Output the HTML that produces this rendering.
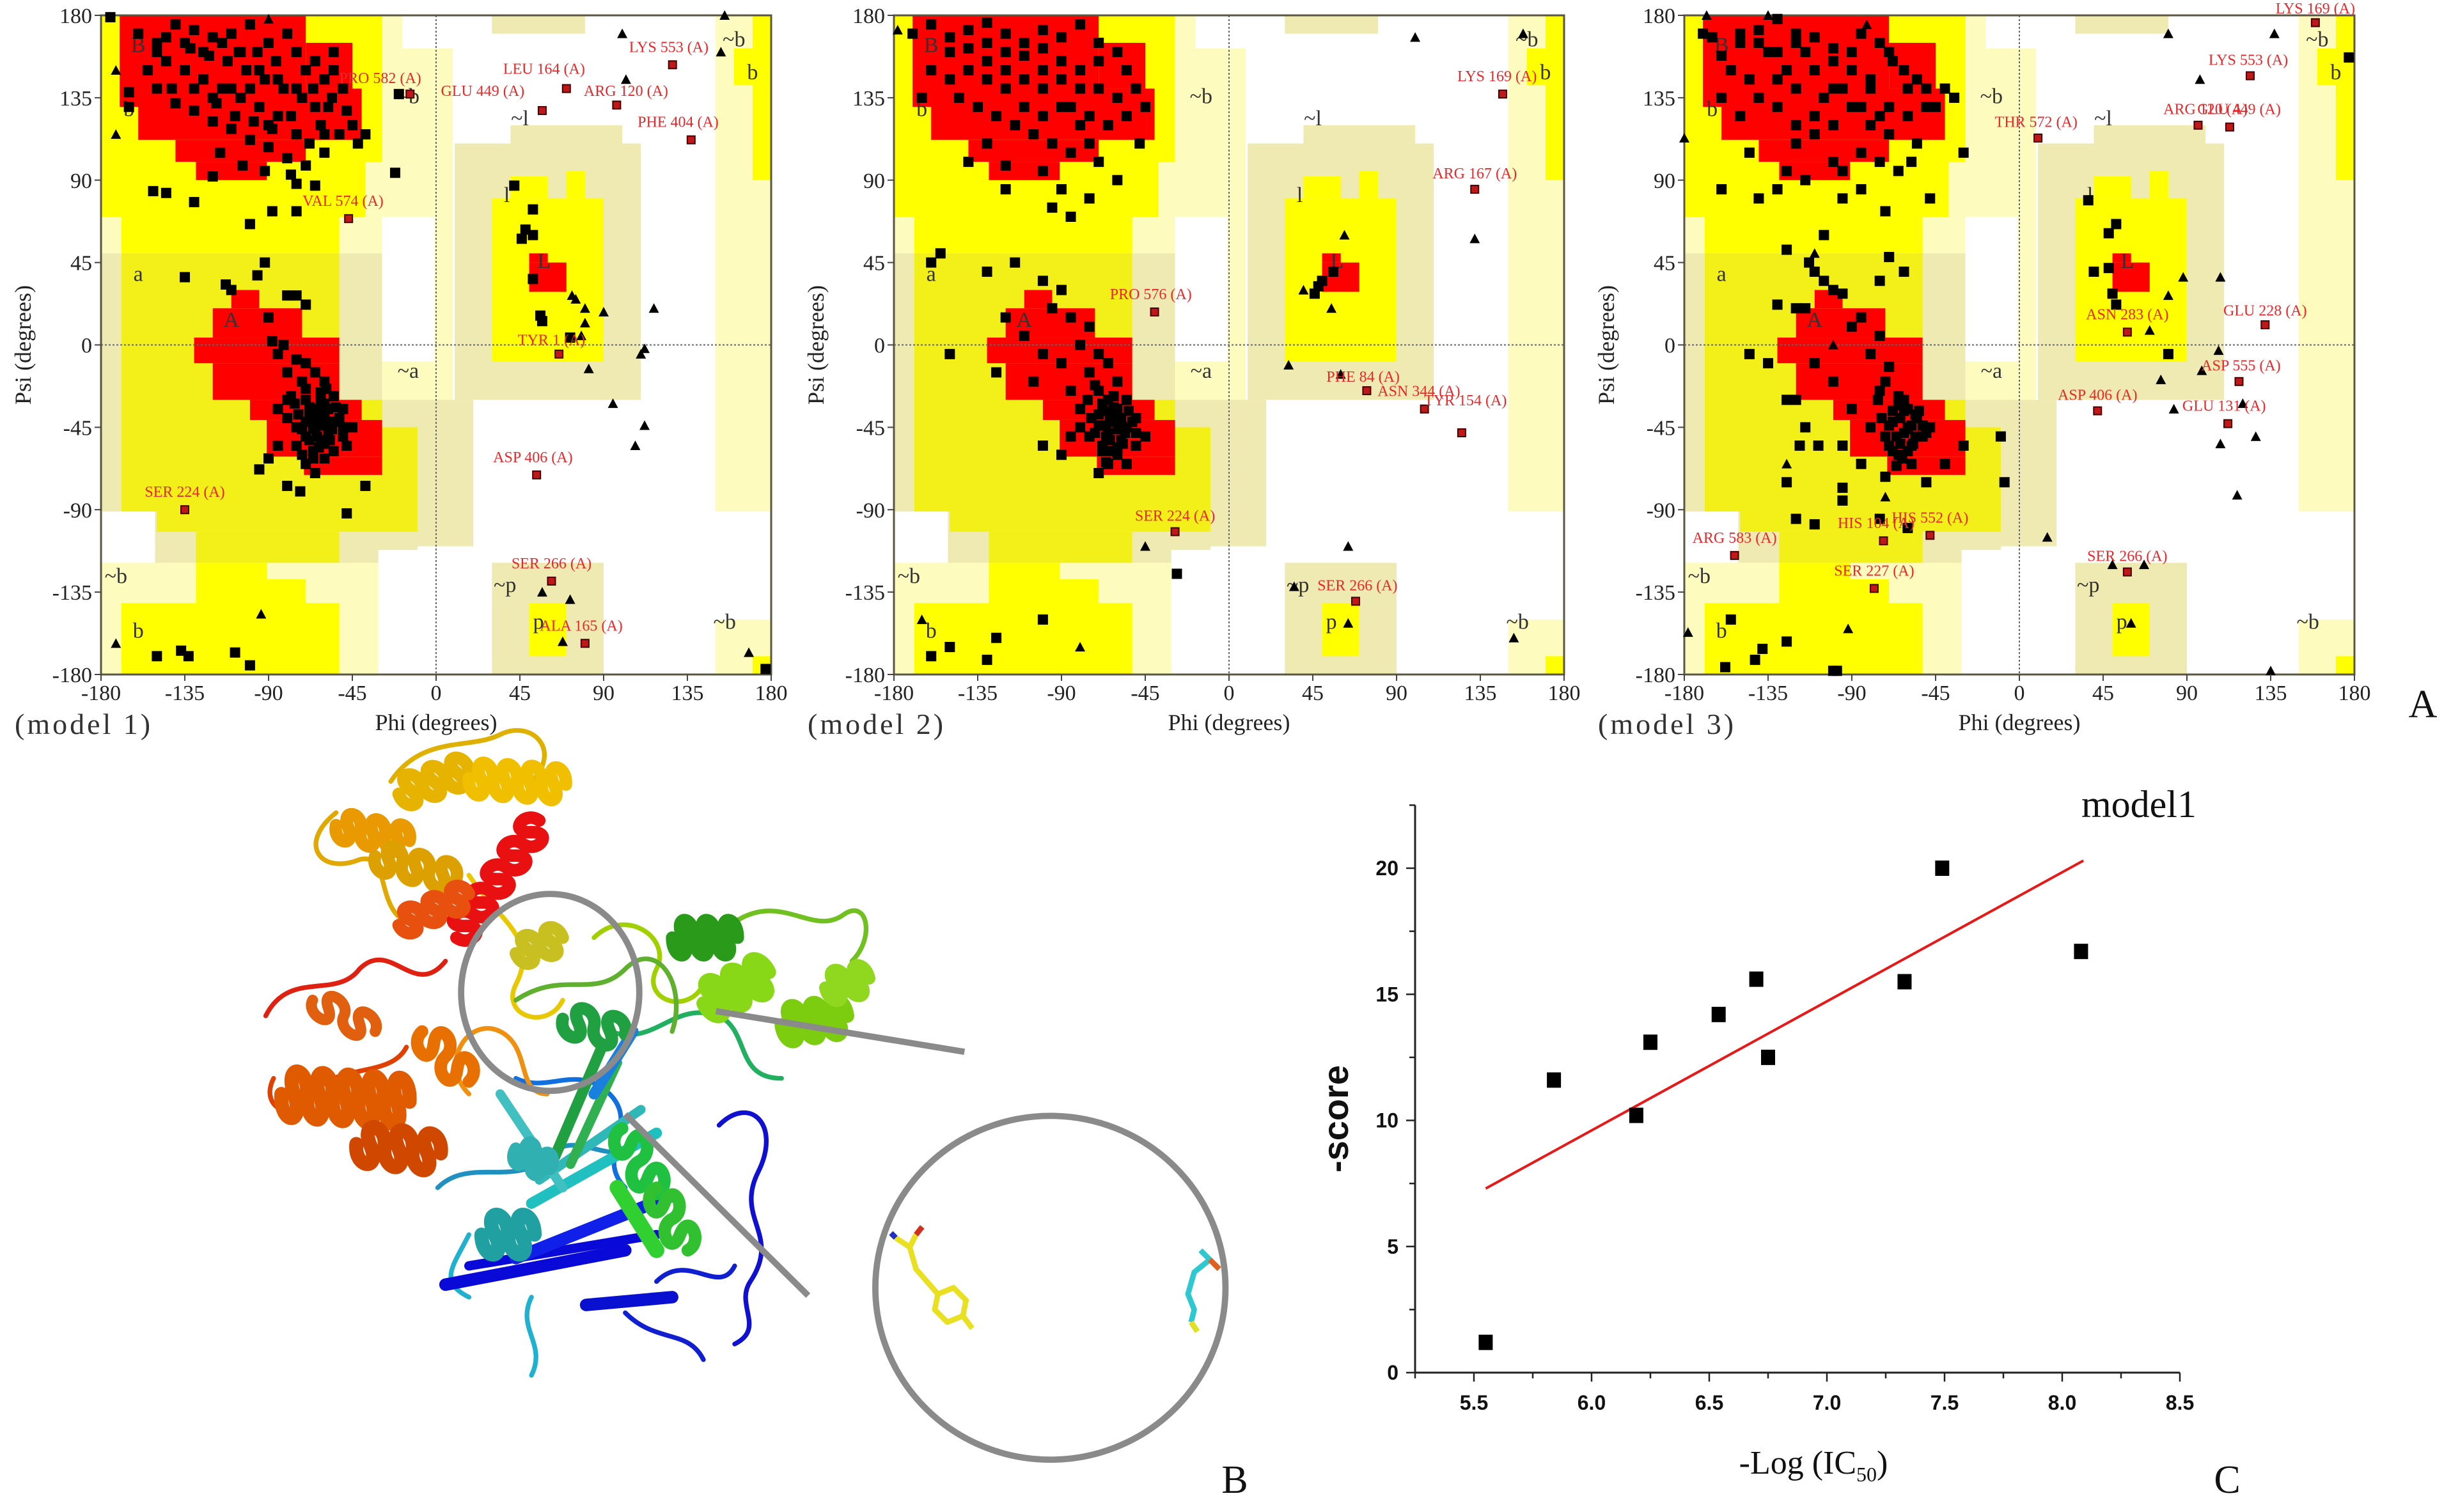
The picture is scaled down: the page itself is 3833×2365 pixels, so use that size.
<!DOCTYPE html>
<html><head><meta charset="utf-8">
<style>
html,body{margin:0;padding:0;background:#fff;}
svg{display:block;}
.tk{font-family:"Liberation Serif",serif;font-size:34px;fill:#222;}
.ax{font-family:"Liberation Serif",serif;font-size:36px;fill:#222;}
.md{font-family:"Liberation Serif",serif;font-size:46px;fill:#333;letter-spacing:4px;}
.rl{font-family:"Liberation Serif",serif;font-size:24px;fill:#e8282a;}
.rg{font-family:"Liberation Serif",serif;font-size:34px;fill:#333;}
.ct{font-family:"Liberation Sans",sans-serif;font-size:32px;font-weight:bold;fill:#111;}
</style></head>
<body>
<svg id="fig" width="3833" height="2365" viewBox="0 0 3833 2365" xmlns="http://www.w3.org/2000/svg">
<rect width="3833" height="2365" fill="#fff"/>
<g id="rama"></g>
<g id="protein" transform="scale(2.4445)">
  <g fill="none" stroke-linecap="round" stroke-linejoin="round">
    <path d="M215,520 C190,540 205,560 230,550 C250,545 240,580 260,590" stroke="#e0a800" stroke-width="3"/>
    <path d="M170,650 C185,620 215,640 230,620 C250,600 265,640 285,615" stroke="#e02010" stroke-width="3"/>
    <path d="M175,690 C165,710 190,720 200,700 C215,680 250,690 260,670" stroke="#e04000" stroke-width="3"/>
    <path d="M300,560 C320,590 345,600 330,630 C320,650 350,660 360,640" stroke="#e8c800" stroke-width="3"/>
    <path d="M380,600 C400,580 430,600 420,620 C410,640 440,650 450,630" stroke="#a0d000" stroke-width="3"/>
    <path d="M470,590 C500,570 520,600 540,585 C555,575 560,600 545,615" stroke="#70c020" stroke-width="3"/>
    <path d="M330,690 C350,700 370,680 390,700 C410,720 380,740 400,760" stroke="#1070e0" stroke-width="3"/>
    <path d="M460,720 C480,700 500,720 485,750 C470,780 500,790 480,820 C470,835 490,850 470,860" stroke="#1010d0" stroke-width="3"/>
    <path d="M340,830 C330,850 350,860 340,880 M300,790 C290,810 280,820 300,830" stroke="#20b0d0" stroke-width="3"/>
    <path d="M400,840 C420,860 440,850 450,870 M420,820 C440,800 460,830 470,810" stroke="#1020d0" stroke-width="3"/>
    <path d="M390,660 C420,670 430,640 460,650 C480,660 470,690 500,690" stroke="#20b060" stroke-width="3"/>
    <path d="M250,500 C270,470 300,480 320,470 C340,460 360,480 340,500" stroke="#e0b000" stroke-width="3"/>
    <path d="M330,640 C360,620 380,640 400,620 C420,600 440,630 430,660" stroke="#60b030" stroke-width="3"/>
    <path d="M280,760 C300,740 330,760 350,740 C370,720 390,750 410,730" stroke="#2090c0" stroke-width="3"/>
    <path d="M300,700 C280,680 300,650 320,660 C340,670 330,700 350,700" stroke="#f09010" stroke-width="3"/>
    <!-- sheets -->
    <path d="M285,822 L400,800" stroke="#0a0ad8" stroke-width="8"/>
    <path d="M300,810 L420,790" stroke="#0a0ad8" stroke-width="6"/>
    <path d="M330,805 L430,765" stroke="#1020e8" stroke-width="8"/>
    <path d="M375,835 L430,830" stroke="#0a10d0" stroke-width="8"/>
    <path d="M340,770 L420,725" stroke="#20c0c0" stroke-width="7"/>
    <path d="M345,755 L410,710" stroke="#30b8b8" stroke-width="6"/>
    <path d="M355,740 L385,670" stroke="#20a040" stroke-width="7"/>
    <path d="M365,745 L395,680" stroke="#30b050" stroke-width="6"/>
    <path d="M380,700 L405,660" stroke="#1a80e0" stroke-width="7"/>
    <path d="M320,700 L360,760" stroke="#40c0c0" stroke-width="6"/>
    <path d="M395,760 L420,800" stroke="#30d030" stroke-width="10"/>
  </g>
  <g id="helices" fill="none" stroke-linecap="round"></g>
  <ellipse cx="352" cy="635" rx="57" ry="63" fill="none" stroke="#8a8a8a" stroke-width="4"/>
  <line x1="458" y1="647" x2="617" y2="673" stroke="#8a8a8a" stroke-width="4"/>
  <line x1="400" y1="713" x2="517" y2="829" stroke="#8a8a8a" stroke-width="4"/>
  <ellipse cx="672" cy="824" rx="112" ry="110" fill="none" stroke="#8a8a8a" stroke-width="4"/>
  <g fill="none" stroke-width="3.5" stroke-linejoin="round">
    <path d="M573,792 L582,798 L586,790 M582,798 L586,812 L600,828 L598,838 L606,846 L616,842 L618,832 L610,824 L600,828 M616,842 L622,850" stroke="#e8e020"/>
    <path d="M586,790 L590,785" stroke="#d03020"/><path d="M573,792 L570,789" stroke="#2030c0"/>
  </g>
  <g fill="none" stroke-width="3.5" stroke-linejoin="round">
    <path d="M768,800 L774,806 L764,814 L760,828 L764,838 L762,846" stroke="#30c8d0"/>
    <path d="M774,806 L780,812" stroke="#e06020"/><path d="M762,846 L766,852" stroke="#e0e020"/>
  </g>
</g>
<text x="1931" y="2335" font-family="Liberation Serif,serif" font-size="62" fill="#111" text-anchor="middle">B</text>
<text x="3789" y="1122" font-family="Liberation Serif,serif" font-size="62" fill="#111" text-anchor="middle">A</text>
<text x="3483" y="2335" font-family="Liberation Serif,serif" font-size="62" fill="#111" text-anchor="middle">C</text>
<g id="scatter"></g>
</svg>
<script>
const NS='http://www.w3.org/2000/svg';
function mk(parent,tag,attrs,txt){const e=document.createElementNS(NS,tag);for(const k in attrs)e.setAttribute(k,attrs[k]);if(txt!==undefined)e.textContent=txt;parent.appendChild(e);return e;}

/* ---------------- Ramachandran data ---------------- */
const ramaTicks=[-180,-135,-90,-45,0,45,90,135,180];
const modelNames=['(model 1)','(model 2)','(model 3)'];
const p1Squares=[-175,179,-160,170,-150,165,-140,175,-130,172,-120,168,-110,170,-100,175,-90,165,-80,170,-75,160,-70,150,-65,155,-60,145,-55,160,-50,140,-58,130,-62,120,-68,110,-75,115,-85,125,-95,130,-105,135,-115,140,-125,145,-135,150,-145,155,-155,150,-150,140,-140,132,-130,128,-120,122,-110,118,-100,112,-90,108,-80,102,-70,98,-60,105,-52,115,-48,128,-45,120,-42,110,-38,115,-72,135,-82,140,-92,145,-102,150,-112,155,-122,158,-132,162,-142,140,-118,132,-108,125,-98,122,-88,118,-78,125,-66,140,-56,135,-86,155,-96,160,-106,160,-116,105,-104,98,-92,95,-120,92,-165,130,
-152,84,-145,83,-130,78,-100,66,-88,73,-75,73,-75,88,-65,87,-78,93,-22,94,-20,137,-165,138,
-92,45,-96,38,-113,33,-110,30,-135,37,-80,27,-75,27,-90,15,-70,22,-88,2,-82,0,-85,-5,-75,-8,-70,-10,-80,-15,-72,-20,-65,-15,-60,-20,-78,-28,-70,-30,-62,-30,-55,-28,-50,-35,-68,-38,-60,-40,-55,-42,-65,-45,-58,-48,-50,-50,-62,-52,-70,-50,-75,-45,-80,-40,-85,-35,-66,-58,-55,-58,-72,-60,-60,-62,-48,-55,-45,-45,-75,-55,-85,-55,-90,-62,-65,-35,-58,-35,-63,-42,-67,-40,-60,-32,-95,-68,-80,-77,-73,-80,-38,-77,-48,-92,-65,-70,-70,-65,
42,87,52,74,48,63,46,58,52,60,52,36,56,16,57,13,72,4,-150,-170,-137,-167,-133,-170,-108,-168,-100,-175,177,-177];
const p1Core=[-64,-38,-60,-44,-66,-46,-62,-36,-58,-42,-70,-42,-68,-34,-56,-46,-64,-50,-60,-54,-72,-46,-52,-40,-68,-52,-74,-38,-62,-26,-54,-34,-57,-52,-63,-56,-76,-32,-70,-24,-50,-45,-66,-62,-59,-24,-80,-30,-145,168,-135,165,-125,160,-115,165,-105,160,-95,150,-85,145,-75,140,-65,130,-55,150,-110,140,-100,140,-90,120,-130,140,-120,135,-60,115,-150,160];
const p1Tris=[-172,150,-172,115,-90,178,100,170,102,145,153,160,155,180,80,20,90,18,117,20,80,12,78,5,82,-13,75,25,73,27,110,-5,112,-2,95,-32,112,-44,107,-55,-172,-163,-94,-147,68,-162,168,-168,57,-135,72,-139];
const p1LabPts=[-14,137,70,140,57,128,97,131,127,153,137,112,-47,69,66,-5,54,-71,-135,-90,62,-129,80,-163];
const p1LabPos=[-30,143,58,148,25,136,102,136,125,160,130,119,-50,76,62,0,52,-64,-135,-83,62,-122,78,-156];
const p1LabTxt=['PRO 582 (A)','LEU 164 (A)','GLU 449 (A)','ARG 120 (A)','LYS 553 (A)','PHE 404 (A)','VAL 574 (A)','TYR 1 (A)','ASP 406 (A)','SER 224 (A)','SER 266 (A)','ALA 165 (A)'];

const p2Squares=[-170,170,-160,175,-150,168,-140,172,-130,176,-120,170,-110,165,-100,172,-90,168,-80,175,-70,165,-60,160,-55,150,-50,140,-60,135,-70,140,-80,150,-90,155,-100,150,-110,145,-120,150,-130,155,-140,150,-150,145,-145,135,-135,130,-125,125,-115,120,-105,115,-95,110,-85,105,-75,110,-65,120,-55,125,-45,130,-90,130,-100,125,-110,130,-80,120,-70,100,-130,110,-140,100,-120,98,-160,150,-165,135,-100,95,-90,85,-75,80,-85,70,-95,75,-120,85,-60,90,-48,110,
-130,40,-115,45,-100,35,-90,30,-95,20,-85,15,-75,10,-80,0,-70,-5,-65,-10,-75,-15,-60,-20,-70,-25,-65,-30,-55,-30,-60,-35,-70,-38,-62,-42,-55,-45,-65,-48,-58,-52,-50,-55,-68,-55,-75,-50,-80,-35,-85,-25,-90,-10,-100,-5,-110,5,-120,15,-105,-20,-60,-60,-55,-65,-65,-65,-70,-70,-50,-40,-45,-50,-62,-38,-66,-44,-58,-40,-64,-36,-68,-32,-125,-15,-150,-5,-90,-60,-100,-55,
-160,45,-155,50,50,35,48,32,56,40,46,28,-160,-170,-150,-165,-125,-160,-100,-150,-130,-172,-28,-125];
const p2Core=[-64,-40,-60,-46,-66,-50,-62,-34,-58,-44,-70,-44,-68,-36,-56,-48,-64,-52,-60,-56,-72,-48,-52,-42,-68,-58,-74,-40,-62,-28,-54,-36,-57,-54,-63,-58,-76,-30,-72,-22,-50,-48,-66,-64,-80,-45,-85,-50,-150,160,-140,162,-130,165,-120,160,-110,158,-100,162,-90,145,-80,140,-70,155,-100,140,-120,140,-130,145,-85,130,-75,125];
const p2Tris=[100,168,40,30,55,20,62,60,64,-110,35,-132,64,-152,153,-160,32,-11,60,-16,132,58,-178,172,-165,-150,-80,-165,158,170,-45,-110];
const p2LabPts=[147,137,132,85,-40,18,74,-25,105,-35,125,-48,-29,-102,68,-140];
const p2LabPos=[144,144,132,91,-42,25,72,-20,102,-28,127,-33,-29,-96,69,-134];
const p2LabTxt=['LYS 169 (A)','ARG 167 (A)','PRO 576 (A)','PHE 84 (A)','ASN 344 (A)','TYR 154 (A)','SER 224 (A)','SER 266 (A)'];

const p3Squares=[-170,170,-165,168,-160,158,-155,150,-150,165,-140,172,-130,178,-120,170,-115,160,-110,150,-100,155,-90,160,-85,170,-75,165,-68,155,-62,150,-55,145,-50,140,-45,130,-40,140,-35,135,-60,125,-70,130,-80,140,-90,130,-100,120,-110,115,-120,110,-130,130,-140,135,-150,125,-160,135,-145,105,-125,95,-115,90,-100,100,-95,95,-85,105,-75,100,-65,95,-55,110,-30,105,-130,85,-140,80,-160,85,-95,80,-85,85,-72,73,-48,80,-120,120,-105,135,-95,140,-80,120,-70,115,-58,100,-145,145,-135,160,-125,150,
-105,60,-113,45,-110,40,-125,52,-105,35,-100,30,-115,20,-95,28,-120,20,-130,22,-70,48,-62,40,-75,35,-85,15,-90,10,-75,5,-80,-5,-70,-12,-75,-25,-65,-28,-60,-35,-55,-40,-68,-42,-62,-48,-58,-55,-52,-50,-48,-45,-65,-60,-58,-65,-70,-55,-80,-45,-90,-35,-100,-20,-110,-10,-120,-30,-115,-45,-118,-55,-108,-55,-95,-55,-85,-65,-72,-72,-50,-75,-40,-65,-30,-55,-10,-50,-8,-75,-145,-5,-135,-10,-125,-30,-125,-75,-95,-78,-95,-85,-120,-95,-110,-98,-75,-95,-60,-100,-65,-33,-60,-45,-56,-38,
37,79,52,66,48,61,40,40,48,42,50,28,52,22,80,-5,-155,-150,-142,-172,-138,-166,-125,-162,-100,-178,-98,-178,-158,-176,177,157];
const p3Core=[-64,-40,-60,-46,-66,-50,-62,-36,-58,-44,-70,-44,-68,-36,-56,-50,-64,-54,-60,-58,-72,-50,-52,-44,-68,-58,-74,-40,-62,-30,-54,-36,-57,-54,-63,-62,-76,-30,-72,-20,-50,-48,-66,-66,-150,170,-140,165,-130,160,-120,165,-110,168,-100,162,-90,150,-80,145,-70,160,-100,140,-120,140,-130,145,-85,130,-75,125,-60,140,-50,130,-110,125];
const p3Tris=[-180,113,-168,180,-135,180,-178,-157,-92,-155,-110,50,-125,-65,-72,-83,-100,0,80,170,97,145,137,170,88,37,108,37,80,27,70,8,107,-3,98,-14,76,-19,83,-35,120,-32,127,-50,108,-54,117,-82,15,-105,50,-120,67,-120,60,-152,135,-178,-82,175];
const p3LabPts=[159,176,124,147,96,120,113,119,10,113,58,7,132,11,118,-20,42,-36,112,-43,-73,-107,-48,-104,-153,-115,-78,-133,58,-124];
const p3LabPos=[159,181,123,153,100,126,118,126,9,119,58,14,132,16,119,-14,42,-30,110,-36,-77,-100,-48,-97,-153,-108,-78,-126,58,-118];
const p3LabTxt=['LYS 169 (A)','LYS 553 (A)','ARG 120 (A)','GLU 449 (A)','THR 572 (A)','ASN 283 (A)','GLU 228 (A)','ASP 555 (A)','ASP 406 (A)','GLU 131 (A)','HIS 104 (A)','HIS 552 (A)','ARG 583 (A)','SER 227 (A)','SER 266 (A)'];

const panels=[
 {x0:158,sq:p1Squares.concat(p1Core),tr:p1Tris,lp:p1LabPts,lq:p1LabPos,lt:p1LabTxt},
 {x0:1398,sq:p2Squares.concat(p2Core),tr:p2Tris,lp:p2LabPts,lq:p2LabPos,lt:p2LabTxt},
 {x0:2634,sq:p3Squares.concat(p3Core),tr:p3Tris,lp:p3LabPts,lq:p3LabPos,lt:p3LabTxt}];
const PW=1048,PY=24,PH=1031;
const P='#fdfcbe',K='#eeeab2',Y='#ffff00',YA='#f2f018',R='#ff0000',W='#ffffff';
const regions=[
 [P,-180,-29,-180,180],[P,-29,9,-81,162],[P,-29,-18,162,180],[W,-29,-1,-9,70],
 [K,-180,-29,-110,50],[K,-29,20,-110,-30],[K,-160,-10,-119,-100],[W,-180,-151,-119,-91],[W,-31,0,-180,-112],
 [Y,-180,-38,70,180],[Y,-38,-29,100,180],[Y,-169,-52,50,70],
 [YA,-169,-52,-91,50],[YA,-150,-10,-102,-45],[YA,-129,-52,-119,-102],[YA,-52,-29,-45,-30],
 [Y,-169,-52,-180,-141],[Y,-129,-91,-141,-119],[Y,-91,-70,-141,-128],
 [K,10,110,-30,110],[K,40,100,110,120],[Y,30,90,-9,80],[Y,40,60,80,92],[Y,70,80,80,95],[R,50,70,29,45],[R,50,60,45,50],
 [K,30,90,-180,-119],[Y,50,70,-170,-141],
 [P,150,180,-91,180],[Y,170,180,90,180],[Y,160,170,142,162],[P,150,180,-180,-150],[Y,170,180,-180,-170],[K,30,80,170,180],
 [R,-170,-70,130,180],[R,-160,-40,112,140],[R,-140,-70,100,112],[R,-129,-91,90,100],[R,-70,-45,140,165],
 [R,-110,-95,20,30],[R,-120,-72,4,20],[R,-130,-52,-10,4],[R,-120,-52,-30,-10],[R,-100,-40,-41,-30],[R,-91,-29,-61,-41],[R,-71,-29,-71,-61]];
const regionLetters=[['B',-160,160],['b',-165,125],['a',-160,35],['A',-110,10],['~b',-15,132],['~a',-15,-18],['~l',45,120],['l',38,78],['L',58,42],['~b',-172,-130],['b',-160,-160],['~p',37,-135],['p',55,-155],['~b',155,-155],['~b',160,163],['b',170,145]];

const rama=document.getElementById('rama');
panels.forEach((pn,pi)=>{
  const fx=phi=>pn.x0+(phi+180)/360*PW;
  const fy=psi=>PY+(180-psi)/360*PH;
  const g=mk(rama,'g',{});
  
  
  regions.forEach(r=>{
    const e=mk(g,'rect',{x:fx(r[1]),y:fy(r[4]),width:fx(r[2])-fx(r[1]),height:fy(r[3])-fy(r[4]),fill:r[0]});
    
    
  });
  regionLetters.forEach(l=>{
    const e=mk(g,'text',{x:fx(l[1]),y:fy(l[2]),class:'rg','text-anchor':'middle'},l[0]);
    
    
  });
  const z1=mk(g,'line',{x1:fx(0),x2:fx(0),y1:PY,y2:PY+PH,stroke:'#666','stroke-width':2,'stroke-dasharray':'3,3'});
  
  
  const z2=mk(g,'line',{x1:pn.x0,x2:pn.x0+PW,y1:fy(0),y2:fy(0),stroke:'#666','stroke-width':2,'stroke-dasharray':'3,3'});
  
  
  const fr=mk(g,'rect',{x:pn.x0,y:PY,width:PW,height:PH,fill:'none',stroke:'#5a5640','stroke-width':3});
  
  
  for(let i=0;i<pn.sq.length;i+=2){
    const e=mk(g,'rect',{x:fx(pn.sq[i])-8,y:fy(pn.sq[i+1])-8,width:16,height:16,fill:'#000'});
    
    
  }
  for(let i=0;i<pn.tr.length;i+=2){
    const x=fx(pn.tr[i]),y=fy(pn.tr[i+1]);
    const e=mk(g,'polygon',{points:`${x},${y-8} ${x-8},${y+7} ${x+8},${y+7}`,fill:'#000'});
    
    
  }
  for(let i=0;i<pn.lt.length;i++){
    const e=mk(g,'rect',{x:fx(pn.lp[2*i])-6,y:fy(pn.lp[2*i+1])-6,width:12,height:12,fill:'#c01818',stroke:'#400','stroke-width':2});
    
    
    const t=mk(g,'text',{x:fx(pn.lq[2*i]),y:fy(pn.lq[2*i+1]),class:'rl','text-anchor':'middle'},pn.lt[i]);
    
    
  }
  ramaTicks.forEach(v=>{
    const a=mk(g,'line',{x1:fx(v),x2:fx(v),y1:PY+PH,y2:PY+PH+10,stroke:'#444','stroke-width':2});
    
    
    const b=mk(g,'text',{x:fx(v),y:PY+PH+40,class:'tk','text-anchor':'middle'},String(v));
    
    
    const c=mk(g,'line',{x1:pn.x0-10,x2:pn.x0,y1:fy(v),y2:fy(v),stroke:'#444','stroke-width':2});
    
    
    const d=mk(g,'text',{x:pn.x0-14,y:fy(v)+12,class:'tk','text-anchor':'end'},String(v));
    
    
  });
  const xt=mk(g,'text',{x:pn.x0+PW/2,y:1142,class:'ax','text-anchor':'middle'},'Phi (degrees)');
  
  
  const yt=mk(g,'text',{x:pn.x0-110,y:PY+PH/2,class:'ax','text-anchor':'middle',transform:`rotate(-90 ${pn.x0-110} ${PY+PH/2})`},'Psi (degrees)');
  
  
  const mt=mk(g,'text',{x:pn.x0-135,y:1148,class:'md'},modelNames[pi]);
  
  
});

/* ---------------- protein helices (decorative) ---------------- */
const hg=document.getElementById('helices');
function helix(x1,y1,x2,y2,n,amp,col,sw){
  const dx=(x2-x1)/n,dy=(y2-y1)/n,L=Math.hypot(x2-x1,y2-y1),nx=-(y2-y1)/L*amp,ny=(x2-x1)/L*amp;
  let d=`M${x1},${y1}`;
  for(let i=0;i<n;i++){
    const ax=x1+dx*i,ay=y1+dy*i;
    d+=` C${ax+nx},${ay+ny} ${ax+dx+nx},${ay+dy+ny} ${ax+dx*0.5},${ay+dy*0.5} S${ax+dx-nx},${ay+dy-ny} ${ax+dx},${ay+dy}`;
  }
  const e=mk(hg,'path',{d:d,stroke:col,'stroke-width':sw});
  
  
}
helix(255,508,300,492,3,13,'#e6b400',8);
helix(300,498,362,502,4,14,'#f0c000',8);
helix(215,528,262,538,3,12,'#e89a00',8);
helix(240,548,292,562,3,12,'#dca000',8);
helix(292,600,345,525,5,12,'#e81010',8);
helix(255,592,300,572,3,11,'#e85010',8);
helix(180,700,262,705,5,20,'#e05a00',9);
helix(228,732,282,738,3,16,'#d04800',9);
helix(270,660,300,692,2,13,'#e87000',8);
helix(430,600,472,600,3,15,'#2a9a1a',8);
helix(450,642,492,622,3,16,'#88d818',9);
helix(500,656,542,650,3,15,'#7ccc10',9);
helix(528,632,556,626,2,13,'#90d820',8);
helix(360,652,400,662,2,13,'#20a040',8);
helix(398,722,420,764,2,13,'#20c040',8);
helix(308,790,342,790,2,17,'#20a0a0',9);
helix(330,735,352,748,2,11,'#30b0b0',8);
helix(330,610,360,600,2,12,'#c8c020',8);
helix(200,640,240,660,2,11,'#e06010',7);
helix(420,760,440,800,2,12,'#30c030',8);

/* ---------------- scatter chart C ---------------- */
const xVals=[5.55,5.84,6.19,6.25,6.54,6.70,6.75,7.33,7.49,8.08];
const yVals=[1.2,11.6,10.2,13.1,14.2,15.6,12.5,15.5,20.0,16.7];
const fitX=[5.55,8.09];
const fitY=[7.3,20.3];
const xTickVals=[5.5,6.0,6.5,7.0,7.5,8.0,8.5];
const xTickLabels=['5.5','6.0','6.5','7.0','7.5','8.0','8.5'];
const yTickVals=[0,5,10,15,20];
const yTickLabels=['0','5','10','15','20'];
const XMIN=5.25,XMAX=8.5,YMAX=22.5;
const AX=2213,AY=2147,XS=368,YS=39.45;
const sx=v=>AX+(v-XMIN)*XS, sy=v=>AY-v*YS;
const sc=document.getElementById('scatter');
const xa=mk(sc,'line',{x1:AX,x2:sx(XMAX),y1:AY,y2:AY,stroke:'#222','stroke-width':3});


const ya=mk(sc,'line',{x1:AX,x2:AX,y1:AY,y2:sy(YMAX),stroke:'#222','stroke-width':3});


for(let v=XMIN;v<=XMAX+1e-9;v+=0.25){
  const major=Math.abs(v*2-Math.round(v*2))<1e-6;
  const t=mk(sc,'line',{x1:sx(v),x2:sx(v),y1:AY,y2:AY+(major?14:9),stroke:'#222','stroke-width':2.5});
  
  
}
for(let v=0;v<=YMAX+1e-9;v+=2.5){
  const major=v%5===0;
  const t=mk(sc,'line',{x1:AX,x2:AX-(major?14:9),y1:sy(v),y2:sy(v),stroke:'#222','stroke-width':2.5});
  
  
}
xTickVals.forEach((v,i)=>{
  const t=mk(sc,'text',{x:sx(v),y:AY+58,class:'ct','text-anchor':'middle'},xTickLabels[i]);
  
  
});
yTickVals.forEach((v,i)=>{
  const t=mk(sc,'text',{x:AX-26,y:sy(v)+11,class:'ct','text-anchor':'end'},yTickLabels[i]);
  
  
});
const fl=mk(sc,'line',{x1:sx(fitX[0]),y1:sy(fitY[0]),x2:sx(fitX[1]),y2:sy(fitY[1]),stroke:'#e81818','stroke-width':4});


xVals.forEach((v,i)=>{
  const m=mk(sc,'rect',{x:sx(v)-11,y:sy(yVals[i])-12,width:22,height:24,fill:'#000'});
  
  
});
const st=mk(sc,'text',{x:2108,y:1750,'font-family':'Liberation Sans,sans-serif','font-size':56,'font-weight':'bold',fill:'#111','text-anchor':'middle',transform:'rotate(-90 2108 1750)'},'-score');


const lt=mk(sc,'text',{x:2836,y:2305,'font-family':'Liberation Serif,serif','font-size':52,fill:'#111','text-anchor':'middle'});


lt.appendChild(document.createTextNode('-Log (IC'));
const sub=mk(lt,'tspan',{'font-size':32,dy:12},'50');


const cl=mk(lt,'tspan',{dy:-12},')');


const mt=mk(sc,'text',{x:3345,y:1278,'font-family':'Liberation Serif,serif','font-size':60,fill:'#111','text-anchor':'middle'},'model1');


</script>
</body></html>
